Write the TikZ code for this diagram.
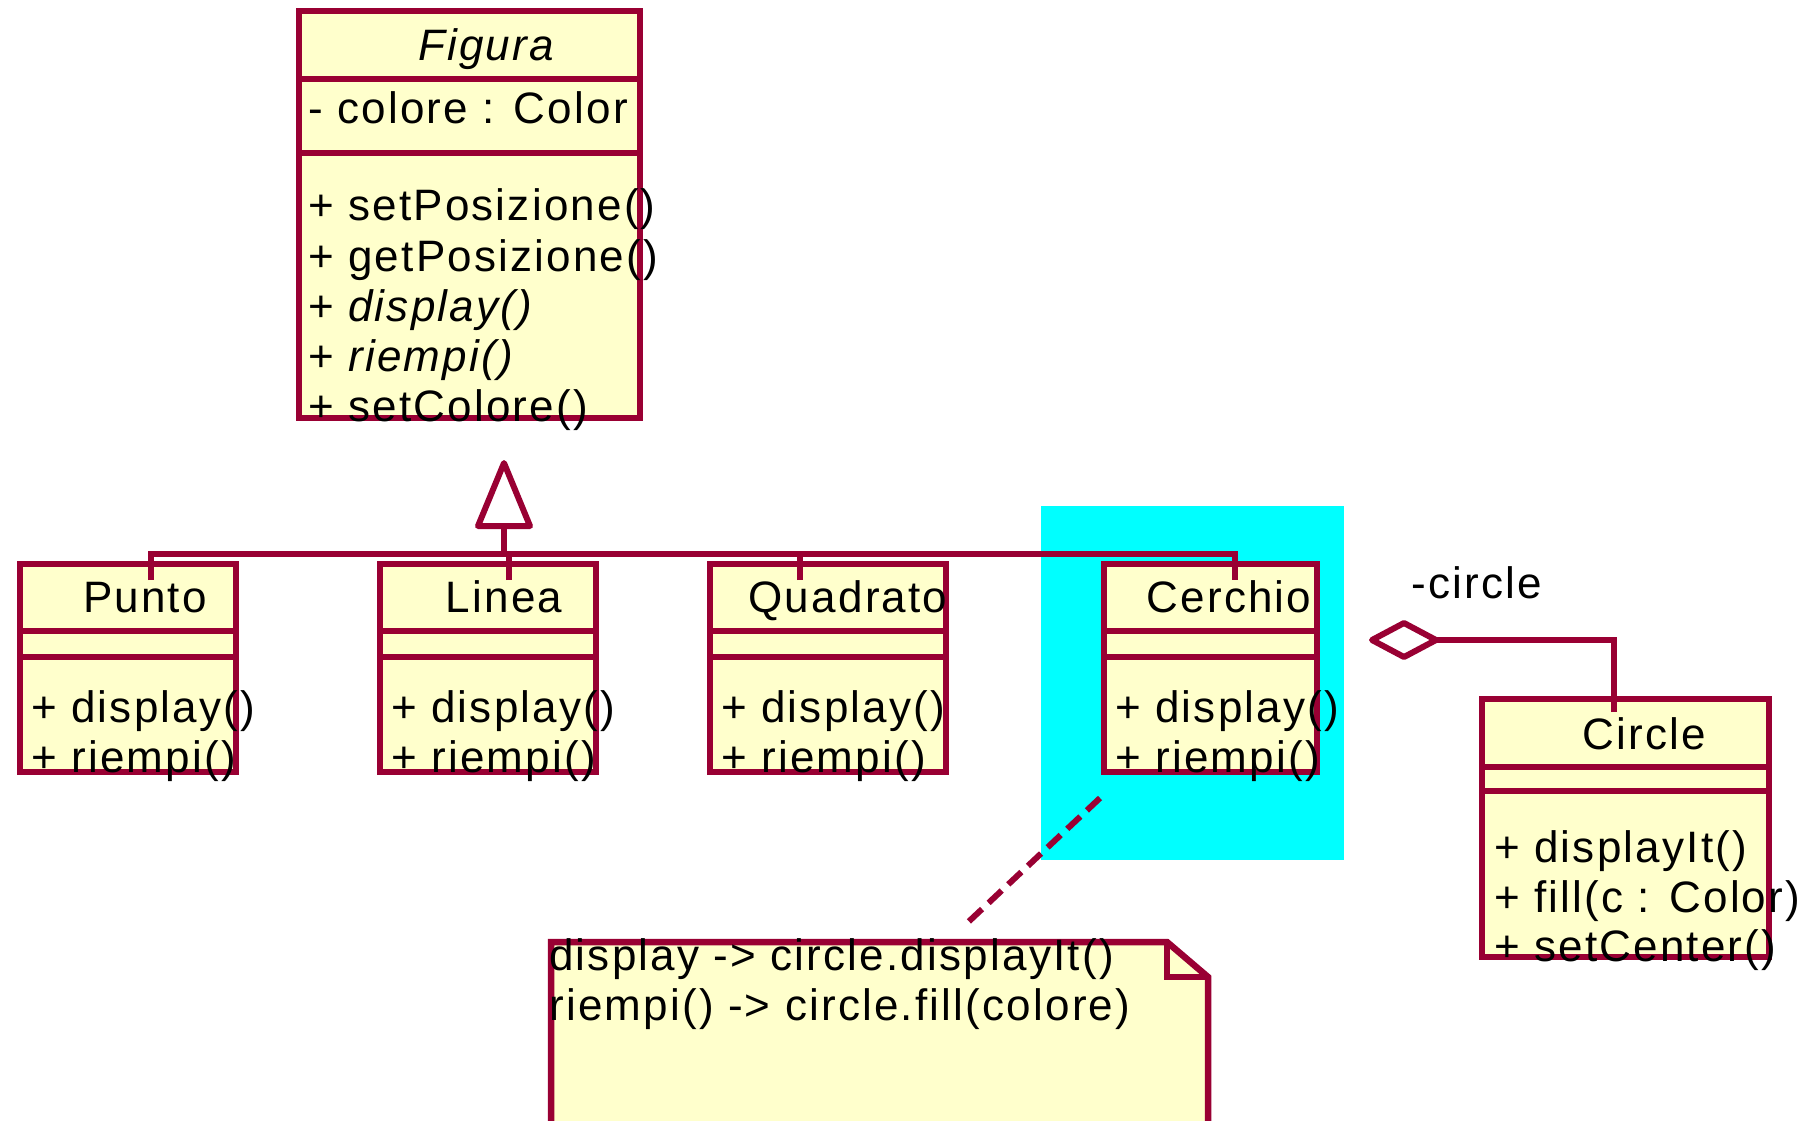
\documentclass[tikz,border=0pt]{standalone}
\usepackage{fontspec}
\setmainfont{Liberation Sans}[LetterSpace=5]
\definecolor{umlred}{HTML}{990033}
\definecolor{umlfill}{HTML}{FFFFCC}
\definecolor{hicyan}{HTML}{00FFFF}
\begin{document}
\begin{tikzpicture}[x=1pt,y=-1pt,
  box/.style={draw=umlred, fill=umlfill, line width=6.5pt, inner sep=0pt, outer sep=0pt, anchor=north west},
  sepline/.style={draw=umlred, line width=6.5pt},
  conn/.style={draw=umlred, line width=6pt},
  txt/.style={anchor=base west, inner sep=0pt, font=\fontsize{44}{50}\selectfont},
  ttl/.style={anchor=base, inner sep=0pt, font=\fontsize{44}{50}\selectfont}]
\useasboundingbox (0,0) rectangle (1803,1120);
\fill[white] (0,0) rectangle (1803,1120);
% cyan highlight
\fill[hicyan] (1041,506) rectangle (1344,860);

% Figura
\node[box, minimum width=341pt, minimum height=407pt] (figura) at (299,11) {};
\draw[sepline] (299,79) -- (640,79);
\draw[sepline] (299,153) -- (640,153);
\node[ttl, font=\fontsize{44}{50}\selectfont\itshape] (figname) at (486,60) {Figura};
\node[txt] (fa1) at (308,123) {- colore : Color};
\node[txt] (fm1) at (308,220) {+ setPosizione()};
\node[txt] (fm2) at (308,271) {+ getPosizione()};
\node[txt] (fm3) at (308,321) {+ \itshape display()};
\node[txt] (fm4) at (308,371) {+ \itshape riempi()};
\node[txt] (fm5) at (308,421) {+ setColore()};

% Punto
\node[box, minimum width=216pt, minimum height=208pt] (punto) at (20,564) {};
\draw[sepline] (20,631) -- (236,631);
\draw[sepline] (20,657) -- (236,657);
\node[ttl] (pname) at (145,612) {Punto};
\node[txt] (pm1) at (31,722) {+ display()};
\node[txt] (pm2) at (31,772) {+ riempi()};

% Linea
\node[box, minimum width=216pt, minimum height=208pt] (linea) at (380,564) {};
\draw[sepline] (380,631) -- (596,631);
\draw[sepline] (380,657) -- (596,657);
\node[ttl] (lname) at (504,612) {Linea};
\node[txt] (lm1) at (391,722) {+ display()};
\node[txt] (lm2) at (391,772) {+ riempi()};

% Quadrato
\node[box, minimum width=236pt, minimum height=208pt] (quadrato) at (710,564) {};
\draw[sepline] (710,631) -- (946,631);
\draw[sepline] (710,657) -- (946,657);
\node[ttl] (qname) at (848,612) {Quadrato};
\node[txt] (qm1) at (721,722) {+ display()};
\node[txt] (qm2) at (721,772) {+ riempi()};

% Cerchio
\node[box, minimum width=213pt, minimum height=208pt] (cerchio) at (1104,564) {};
\draw[sepline] (1104,631) -- (1317,631);
\draw[sepline] (1104,657) -- (1317,657);
\node[ttl] (cname) at (1229,612) {Cerchio};
\node[txt] (cm1) at (1115,722) {+ display()};
\node[txt] (cm2) at (1115,772) {+ riempi()};

% Circle
\node[box, minimum width=287pt, minimum height=258pt] (circle) at (1482,699) {};
\draw[sepline] (1482,767) -- (1769,767);
\draw[sepline] (1482,791) -- (1769,791);
\node[ttl] (ciname) at (1644,749) {Circle};
\node[txt] (cim1) at (1494,862) {+ displayIt()};
\node[txt] (cim2) at (1494,912) {+ fill(c : Color)};
\node[txt] (cim3) at (1494,961) {+ setCenter()};

% Note
\draw[box, line join=miter] (551,1130) -- (551,942) -- (1167,942) -- (1208,977) -- (1208,1130);
\draw[sepline] (1167,942) -- (1167,977) -- (1208,977);
\node[txt] (n1) at (549,970) {display -> circle.displayIt()};
\node[txt] (n2) at (549,1020) {riempi() -> circle.fill(colore)};

% Generalization
\coordinate (gP) at (151,580);
\coordinate (gL) at (509,580);
\coordinate (gQ) at (800,580);
\coordinate (gC) at (1235,580);
\coordinate (bus) at (504,554);
\coordinate (apex) at (504,463);
\draw[conn] (gP) -- (gP |- bus) -- (gC |- bus) -- (gC);
\draw[conn] (gL) -- (gL |- bus);
\draw[conn] (gQ) -- (gQ |- bus);
\draw[conn] (bus) -- ++(0,-28);
\draw[conn, fill=white, line join=round] (apex) -- ++(26,63) -- ++(-52,0) -- cycle;

% Aggregation
\coordinate (ciS) at (1614,712);
\coordinate (dR) at (1436,640);
\draw[conn] (ciS) -- (ciS |- dR) -- (dR);
\draw[conn, fill=white, line join=round] (dR) -- (1404,623) -- (1372,640) -- (1404,657) -- cycle;
\node[txt] (role) at (1411,598) {-circle};

% Note link
\coordinate (lnA) at (1100,798);
\coordinate (lnB) at (964,926);
\draw[conn, dash pattern=on 18pt off 9pt] (lnA) -- (lnB);
\end{tikzpicture}
\end{document}
